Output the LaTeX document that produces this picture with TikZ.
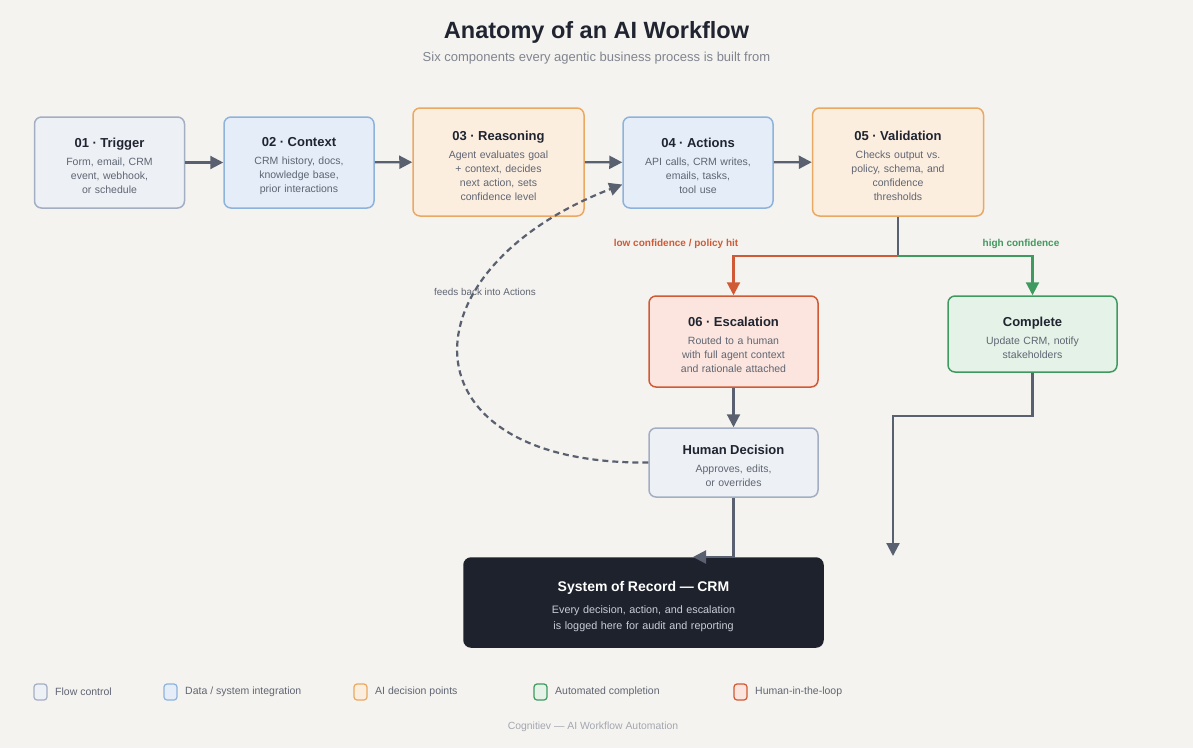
\documentclass[tikz,border=0pt]{standalone}
\usepackage{fontspec}
\setmainfont{Liberation Sans}
\usetikzlibrary{arrows.meta,calc,positioning}

\definecolor{paper}{HTML}{F5F3EF}
\definecolor{ink}{HTML}{1F2430}
\definecolor{muted}{HTML}{5F6573}
\definecolor{wire}{HTML}{596170}
\definecolor{flwfill}{HTML}{EDF0F5}
\definecolor{flwline}{HTML}{A3AEC2}
\definecolor{datfill}{HTML}{E4EDF8}
\definecolor{datline}{HTML}{8DB3DB}
\definecolor{aifill}{HTML}{FCEEDF}
\definecolor{ailine}{HTML}{E9A962}
\definecolor{donfill}{HTML}{E4F2E7}
\definecolor{donline}{HTML}{3F9A5F}
\definecolor{humfill}{HTML}{FBE5DE}
\definecolor{humline}{HTML}{D05A35}
\definecolor{recfill}{HTML}{1E222D}
\definecolor{recbody}{HTML}{C9CDD6}
\definecolor{faint}{HTML}{A3A7B0}

\tikzstyle{box}=[rectangle, rounded corners=7pt, line width=1.5pt, align=center,
		inner sep=4pt, text=muted, font=\fontsize{10.5}{14}\selectfont]
\tikzstyle{flw}=[box, draw=flwline, fill=flwfill]
\tikzstyle{dat}=[box, draw=datline, fill=datfill]
\tikzstyle{ai}=[box, draw=ailine, fill=aifill]
\tikzstyle{don}=[box, draw=donline, fill=donfill]
\tikzstyle{hum}=[box, draw=humline, fill=humfill]
\tikzstyle{rec}=[box, draw=recfill, fill=recfill, text=recbody,
		font=\fontsize{10.8}{16}\selectfont]
\tikzstyle{sm}=[minimum width=150pt, minimum height=91pt, text width=140pt]
\tikzstyle{lg}=[minimum width=171pt, minimum height=108pt, text width=160pt]
\tikzstyle{md}=[minimum width=169pt, text width=160pt]
\tikzstyle{arr}=[draw=wire, line width=2.2pt, -{Triangle[length=13pt,width=13pt]}]
\tikzstyle{lbl}=[font=\fontsize{10}{12}\selectfont\bfseries]
\tikzstyle{swatch}=[rectangle, rounded corners=3pt, line width=1.2pt,
		minimum width=13pt, minimum height=16pt, inner sep=0pt]

\newcommand{\ttl}[1]{{\color{ink}\fontsize{13}{15}\selectfont\bfseries\rule{0pt}{17pt}#1}\\[4pt]}

\begin{document}
\begin{tikzpicture}[x=1pt, y=-1pt]
                \fill[paper] (0,0) rectangle (1193,748);
                % heading
                \node[font=\fontsize{23.5}{28}\selectfont\bfseries, text=ink] (title) at (596.5,32) {Anatomy of an AI Workflow};
                \node[font=\fontsize{13}{16}\selectfont, text=muted!80] (sub) at (596.5,58) {Six components every agentic business process is built from};

                % main row
                \node[flw, sm] (trig) at (109.5,162.5) {\ttl{01 · Trigger}Form, email, CRM\\event, webhook,\\or schedule};
                \node[dat, sm] (ctx) at (299,162.5) {\ttl{02 · Context}CRM history, docs,\\knowledge base,\\prior interactions};
                \node[ai, lg] (rsn) at (498.5,162) {\ttl{03 · Reasoning}Agent evaluates goal\\+ context, decides\\next action, sets\\confidence level};
                \node[dat, sm] (act) at (698,162.5) {\ttl{04 · Actions}API calls, CRM writes,\\emails, tasks,\\tool use};
                \node[ai, lg] (val) at (898,162) {\ttl{05 · Validation}Checks output vs.\\policy, schema, and\\confidence\\thresholds};

                % branches
                \node[hum, md, minimum height=91pt] (esc) at (733.5,341.5) {\ttl{06 · Escalation}Routed to a human\\with full agent context\\and rationale attached};
                \node[don, md, minimum height=76pt] (done) at (1032.5,334) {\ttl{Complete}Update CRM, notify\\stakeholders};
                \node[flw, md, minimum height=69pt] (hd) at (733.5,462.5) {\ttl{Human Decision}Approves, edits,\\or overrides};
                \node[rec, minimum width=359pt, minimum height=89pt, text width=340pt] (sor) at (643.5,602.5) {{\color{white}\fontsize{14}{16}\selectfont\bfseries\rule{0pt}{19pt}System of Record — CRM}\\[6pt]Every decision, action, and escalation\\is logged here for audit and reporting};

                \draw[arr] (trig) -- (ctx);
                \draw[arr] (ctx) -- (rsn);
                \draw[arr] (rsn) -- (act);
                \draw[arr] (act) -- (val);

                \draw[draw=wire, line width=2.2pt] (val.south) -- ++(0,39) coordinate (split);
                \draw[arr, draw=humline] (split) -| (esc.north);
                \draw[arr, draw=donline] (split) -| (done.north);
                \node[lbl, text=humline] (lowl) at (676,244) {low confidence / policy hit};
                \node[lbl, text=donline] (highl) at (1021,244) {high confidence};

                \draw[arr] (esc) -- (hd);
                \coordinate (sorin) at (693,557);
                \draw[arr] (hd.south) |- (sorin);
                \coordinate (exitpt) at (893,556);
                \draw[arr] (done.south) -- ++(0,43) -| (exitpt);

                % loop back
                \draw[arr, dash pattern=on 6pt off 4pt] (hd.west) .. controls (400,465) and (400,270) .. ($(act.west)+(0,22)$);
                \node[font=\fontsize{9.9}{12}\selectfont, text=muted] (fbl) at (485,292) {feeds back into Actions};

                % legend
                \foreach \x/\s/\txt in {34/flw/Flow control, 164/dat/{Data / system integration}, 354/ai/AI decision points, 534/don/Automated completion, 734/hum/Human-in-the-loop} {
                    \node[swatch, draw=\s line, fill=\s fill] (sw\s) at (\x+6.5,692) {};
                    \node[anchor=west, inner sep=0pt, font=\fontsize{10.5}{12}\selectfont, text=muted] (lg\s) at (\x+21,692) {\txt};
                }
                \node[font=\fontsize{10.4}{12}\selectfont, text=faint] (foot) at (593,727) {Cognitiev — AI Workflow Automation};
            \end{tikzpicture}
\end{document}
